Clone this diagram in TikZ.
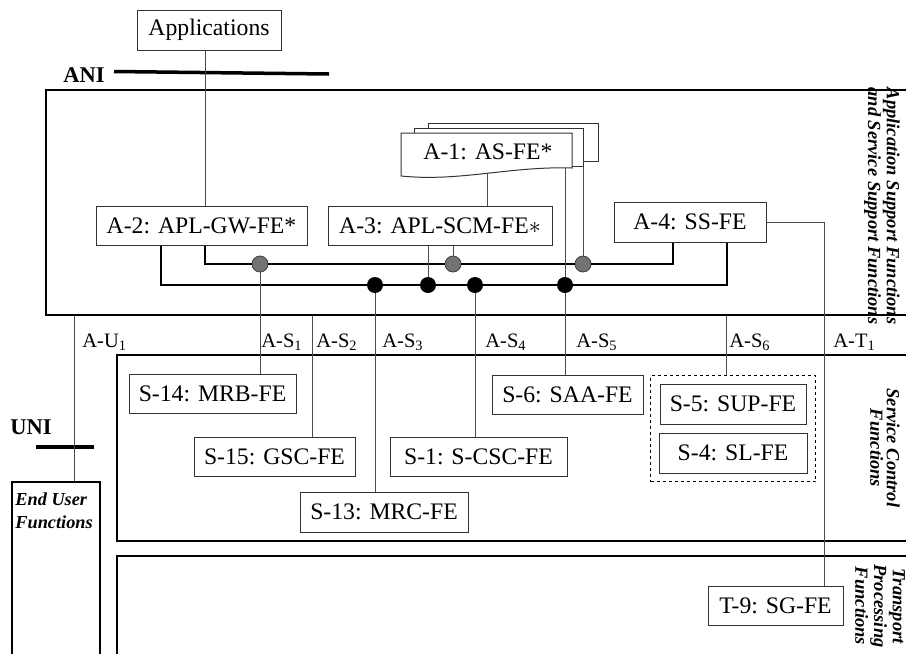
\documentclass[tikz,border=0pt]{standalone}
\usepackage{fontspec}
\setmainfont{Liberation Serif}
\usetikzlibrary{positioning,fit}

\begin{document}
\begin{tikzpicture}[x=0.5pt, y=-0.5pt,
    fe/.style={draw=black!80, line width=0.5pt, inner sep=0pt, minimum height=19.5pt, font=\fontsize{11.85}{14}\selectfont},
    area/.style={draw, line width=1pt, inner sep=0pt},
    link/.style={draw=black!70, line width=0.5pt},
    bus/.style={line width=0.8pt},
    gdot/.style={circle, draw=black!75, fill=black!55, minimum size=8pt, inner sep=0pt},
    bdot/.style={circle, fill=black, minimum size=8pt, inner sep=0pt},
    iface/.style={anchor=base west, inner sep=0pt, font=\fontsize{10.25}{12}\selectfont},
    side/.style={rotate=-90, align=center, inner sep=0pt, font=\fontsize{9.25}{8.25}\selectfont\bfseries\itshape},
    ifmark/.style={anchor=base west, inner sep=0pt, font=\fontsize{11.25}{13}\selectfont\bfseries}]
\clip (0,0) rectangle (906,654);

% layers
\node[area, fit={(46,90) (930,315)}] (assf) {};
\node[area, fit={(117,355) (930,541)}] (scf) {};
\node[area, fit={(117,556) (930,680)}] (tpf) {};
\node[area, fit={(12,482) (100,680)}] (euf) {};
\node[anchor=west, inner sep=0pt, align=left, font=\fontsize{9.15}{11.5}\selectfont\bfseries\itshape] (euftext) at (15,511) {End User\\Functions};
\node[side] (assflbl) at (882,206) {Application Support Functions\\and Service Support Functions};
\node[side] (scflbl) at (885,448) {Service Control\\Functions};
\node[side] (tpflbl) at (880,606) {Transport\\Processing\\Functions};

\node[ifmark] (ani) at (63,82) {ANI};
\draw[line width=1.75pt] (114,71.5) -- (329,74);
\node[ifmark] (uni) at (10,434) {UNI};
\draw[line width=1.75pt] (36,447) -- (94,447);

% functional entities
\node[fe, minimum width=72pt, minimum height=20pt] (apps) at (209,30) {Applications};
\node[fe, minimum width=105.5pt] (a2) at (201.5,225.5) {A-2: APL-GW-FE*};
\node[fe, minimum width=112pt] (a3) at (440,225.5) {A-3: APL-SCM-FE$\ast$};
\node[fe, minimum width=76pt, minimum height=20pt] (a4) at (690,222) {A-4: SS-FE};

\draw[fe] (428,128) |- (598,123) |- (583,161);
\draw[fe] (414,133) |- (583,128) -- (583,166) -- (572,166);
\draw[fe, fill=white] (401,176) -- (401,133) -- (572,133) -- (572,168) .. controls (510,166) and (460,182) .. cycle;
\node[inner sep=0pt, font=\fontsize{11.85}{14}\selectfont] (a1) at (488,152) {A-1: AS-FE*};
\coordinate (a1foot) at (487,174);
\coordinate (a1r) at (565,168);
\coordinate (a1s) at (583,166);

\node[fe, minimum width=83.5pt] (s14) at (212.5,393.5) {S-14: MRB-FE};
\node[fe, minimum width=80.5pt] (s15) at (274.5,456.5) {S-15: GSC-FE};
\node[fe, minimum width=84pt, minimum height=20pt] (s13) at (384,512) {S-13: MRC-FE};
\node[fe, minimum width=88.5pt] (s1) at (478.5,456.5) {S-1: S-CSC-FE};
\node[fe, minimum width=75.5pt] (s6) at (567.5,394.5) {S-6: SAA-FE};
\node[fe, minimum width=73pt, minimum height=20pt] (s5) at (733,404) {S-5: SUP-FE};
\node[fe, minimum width=74pt, minimum height=20pt, below=4pt of s5] (s4) {S-4: SL-FE};
\node[draw, line width=0.5pt, dash pattern=on 1.5pt off 1.5pt, fit=(s5)(s4), inner sep=4pt] (grp) {};
\node[fe, minimum width=67.5pt] (t9) at (775.5,605.5) {T-9: SG-FE};

% reference points
\node[gdot] (g1) at (260,264) {};
\node[gdot] (g2) at (453,264) {};
\node[gdot] (g3) at (583,264) {};
\node[bdot] (b1) at (375,285) {};
\node[bdot] (b2) at (428,285) {};
\node[bdot] (b3) at (475,285) {};
\node[bdot] (b4) at (565,285) {};

\draw[bus] (a2.south -| 205,0) |- (g1) -- (g2) -- (g3) -| (a4.south -| 673,0);
\draw[bus] (a2.south -| 161,0) |- (b1) -- (b2) -- (b3) -- (b4) -| (a4.south -| 727,0);

\draw[link] (apps.south -| 205,0) -- (a2.north -| 205,0);
\draw[link] (a1foot) -- (a3.north -| a1foot);
\draw[link] (a1r) -- (b4);
\draw[link] (a1s) -- (g3);
\draw[link] (a3.south -| g2) -- (g2);
\draw[link] (a3.south -| b2) -- (b2);
\draw[link] (g1) -- (s14.north -| g1);
\draw[link] (b1) -- (s13.north -| b1);
\draw[link] (b3) -- (s1.north -| b3);
\draw[link] (b4) -- (s6.north -| b4);
\draw[link] (assf.south -| 312,0) -- (s15.north -| 312,0);
\draw[link] (assf.south -| 726,0) -- (grp.north -| 726,0);
\draw[link] (assf.south -| 74,0) -- (euf.north -| 74,0);
\draw[link] (a4.east) -| (t9.north -| 824,0);

% reference point labels
\node[iface] (au1) at (82,347) {A-U\textsubscript{1}};
\node[iface] (as1) at (261,347) {A-S\textsubscript{1}};
\node[iface] (as2) at (316,347) {A-S\textsubscript{2}};
\node[iface] (as3) at (382,347) {A-S\textsubscript{3}};
\node[iface] (as4) at (485,347) {A-S\textsubscript{4}};
\node[iface] (as5) at (576,347) {A-S\textsubscript{5}};
\node[iface] (as6) at (729,347) {A-S\textsubscript{6}};
\node[iface] (at1) at (833,347) {A-T\textsubscript{1}};
\end{tikzpicture}
\end{document}
